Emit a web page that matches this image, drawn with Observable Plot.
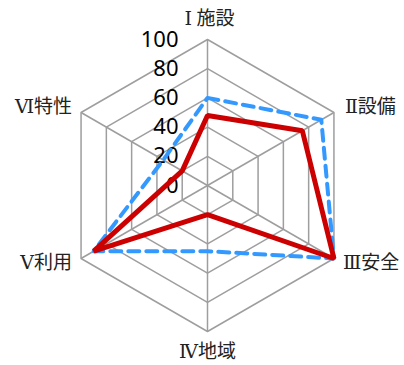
<!DOCTYPE html>
<html>
<head>
<meta charset="utf-8">
<script src="https://cdn.jsdelivr.net/npm/d3@7"></script>
<script src="https://cdn.jsdelivr.net/npm/@observablehq/plot@0.6"></script>
<style>
  html, body { margin: 0; padding: 0; background: #fff; }
  .cat-label text { white-space: pre; }
</style>
</head>
<body>
<div id="chart"></div>
<script>
const categories = ["Ⅰ 施設", "Ⅱ設備", "Ⅲ安全", "Ⅳ地域", "Ⅴ利用", "Ⅵ特性"];
const seriesBlue = [60, 90, 100, 45, 90, 35];
const seriesRed = [48, 75, 100, 20, 90, 20];
const tickLevels = [0, 20, 40, 60, 80, 100];
const tickLabels = ["0", "20", "40", "60", "80", "100"];

const n = categories.length;
const ang = i => (i * 2 * Math.PI) / n;
const px = (i, v) => v * Math.sin(ang(i));
const py = (i, v) => v * Math.cos(ang(i));

const toPts = vals => vals.map((v, i) => ({i, v}));
const ringData = tickLevels.filter(l => l > 0).flatMap(l => categories.map((c, i) => ({i, v: l, l})));
const spokes = categories.map((c, i) => ({i}));

const labelOff = [
  {dx: 2, dy: -21, anchor: "middle"},
  {dx: 11, dy: -6, anchor: "start"},
  {dx: 9, dy: 4, anchor: "start"},
  {dx: 0, dy: 20, anchor: "middle"},
  {dx: -9, dy: 4, anchor: "end"},
  {dx: -9, dy: -6, anchor: "end"}
];

const labelMarks = categories.map((c, i) => Plot.text([{i, c}], {
  x: d => px(d.i, 100), y: d => py(d.i, 100), text: d => d.c,
  dx: labelOff[i].dx, dy: labelOff[i].dy, textAnchor: labelOff[i].anchor,
  fontSize: 19, fill: "#222", fontFamily: "'Noto Sans CJK JP', 'Noto Sans', sans-serif",
  className: "cat-label"
}));

const chart = Plot.plot({
  width: 404,
  height: 365,
  margin: 0,
  x: {domain: [-100, 100], range: [207 - 146, 207 + 146], axis: null},
  y: {domain: [-100, 100], range: [185 + 146, 185 - 146], axis: null},
  style: {background: "#fff"},
  marks: [
    Plot.line(ringData, {x: d => px(d.i, d.v), y: d => py(d.i, d.v), z: "l", curve: "linear-closed", stroke: "#9e9e9e", strokeWidth: 1.5}),
    Plot.link(spokes, {x1: 0, y1: 0, x2: d => px(d.i, 100), y2: d => py(d.i, 100), stroke: "#9e9e9e", strokeWidth: 1.5}),
    Plot.text(tickLevels.map((l, k) => ({l, t: tickLabels[k]})), {
      x: 0, y: "l", text: "t", dx: -29, textAnchor: "end", fontSize: 22, fill: "#000",
      fontFamily: "'Noto Sans', sans-serif"
    }),
    Plot.line(toPts(seriesBlue), {x: d => px(d.i, d.v), y: d => py(d.i, d.v), curve: "linear-closed", stroke: "#3399ff", strokeWidth: 4, strokeDasharray: "11,7", strokeLinejoin: "round"}),
    Plot.line(toPts(seriesRed), {x: d => px(d.i, d.v), y: d => py(d.i, d.v), curve: "linear-closed", stroke: "#cc0000", strokeWidth: 5, strokeLinejoin: "miter"}),
    ...labelMarks
  ]
});
// render the Roman numeral in a serif face, like the original
d3.select(chart).selectAll(".cat-label text").each(function() {
  const s = this.textContent;
  const first = s[0], rest = s.slice(1);
  const t = d3.select(this);
  t.text(null);
  t.append("tspan").attr("font-family", "'DejaVu Serif', 'Liberation Serif', serif").text(first);
  t.append("tspan").attr("xml:space", "preserve").style("white-space", "pre").text(rest);
});
document.getElementById("chart").appendChild(chart);
</script>
</body>
</html>
